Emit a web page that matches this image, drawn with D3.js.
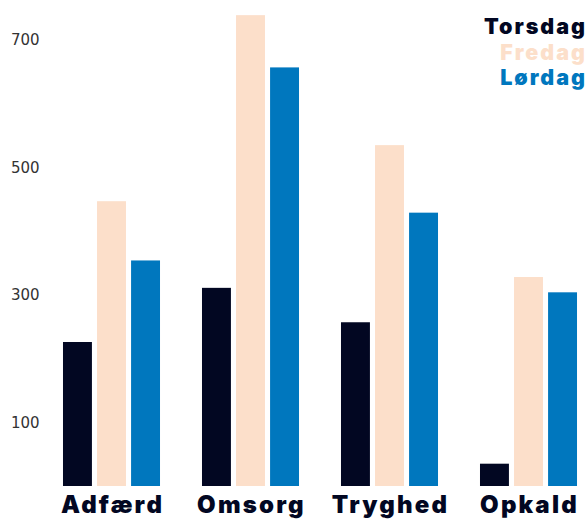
<!DOCTYPE html>
<html>
<head>
<meta charset="utf-8">
<script src="https://cdn.jsdelivr.net/npm/d3@7"></script>
<style>
  body { margin: 0; background: #fff; }
  .tick-label { font-family: "DejaVu Sans", sans-serif; font-size: 15px; fill: #333; }
  .cat-label, .legend { font-family: Inter, "Noto Sans", sans-serif; font-weight: 900; }
</style>
</head>
<body>
<svg class="chart"></svg>
<script>
const categories = ['Adfærd', 'Omsorg', 'Tryghed', 'Opkald'];
const series = ['Torsdag', 'Fredag', 'Lørdag'];
const torsdag = [226, 311, 257, 35];
const fredag = [447, 739, 535, 328];
const lordag = [354, 657, 429, 304];
const tickValues = [100, 300, 500, 700];
const colors = ['#020722', '#fcdfca', '#0077be'];

const values = [torsdag, fredag, lordag];
const width = 587, height = 519;

const svg = d3.select('.chart')
  .attr('width', width)
  .attr('height', height);

const y = d3.scaleLinear()
  .domain([0, 700])
  .range([486, 40]);

const x0 = d3.scaleBand()
  .domain(categories)
  .range([42, 598])
  .paddingInner(0.302)
  .paddingOuter(0.151);

const x1 = d3.scaleBand()
  .domain(series)
  .range([0, x0.bandwidth()])
  .padding(0.15)
  .paddingOuter(0);

const color = d3.scaleOrdinal().domain(series).range(colors);

// y tick labels only, no axis line
svg.append('g').selectAll('text')
  .data(tickValues)
  .enter().append('text')
  .attr('class', 'tick-label')
  .attr('x', 11)
  .attr('y', d => y(d))
  .attr('dy', '0.35em')
  .text(d => d);

const groups = svg.append('g').selectAll('g')
  .data(categories)
  .enter().append('g')
  .attr('transform', d => `translate(${x0(d)},0)`);

groups.selectAll('rect')
  .data((c, i) => series.map((s, j) => ({ key: s, value: values[j][i] })))
  .enter().append('rect')
  .attr('x', d => x1(d.key))
  .attr('y', d => y(d.value))
  .attr('width', x1.bandwidth())
  .attr('height', d => y(0) - y(d.value))
  .attr('fill', d => color(d.key));

svg.append('g').selectAll('text')
  .data(categories)
  .enter().append('text')
  .attr('class', 'cat-label')
  .attr('x', d => x0(d) + x0.bandwidth() / 2 + 1)
  .attr('y', 513)
  .attr('text-anchor', 'middle')
  .attr('font-size', 24)
  .attr('letter-spacing', 2.2)
  .attr('fill', colors[0])
  .text(d => d);

// legend, top right
svg.append('g').selectAll('text')
  .data(series)
  .enter().append('text')
  .attr('class', 'legend')
  .attr('x', 587)
  .attr('y', (d, i) => 34 + i * 25.5)
  .attr('text-anchor', 'end')
  .attr('font-size', 21.5)
  .attr('letter-spacing', 2)
  .attr('fill', d => color(d))
  .text(d => d);
</script>
</body>
</html>
